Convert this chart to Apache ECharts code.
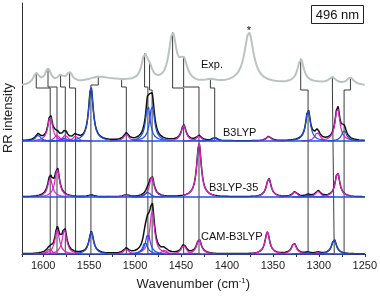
<!DOCTYPE html>
<html><head><meta charset="utf-8">
<script src="https://cdn.jsdelivr.net/npm/echarts@6/dist/echarts.min.js"></script>
<style>html,body{margin:0;padding:0;background:#fff}#c{width:380px;height:296px}</style>
</head><body><div id="c"></div>
<script>
// ---------------- DATA ----------------
// tick labels of the wavenumber axis (cm-1)
const xTickLabels = [1600, 1550, 1500, 1450, 1400, 1350, 1300, 1250];
// Panel names
const panelNames = ['Exp.', 'B3LYP', 'B3LYP-35', 'CAM-B3LYP'];
// Experimental RR band list: [wavenumber, relative height, half-width]
const expBands = [
  [1607.5, 11, 4], [1594.7, 15, 4], [1581.0, 7, 4], [1571.2, 10, 4],
  [1540.0, 5, 15], [1520.0, 5, 45], [1489.6, 24, 4], [1484.2, 10, 4], [1459.1, 48, 5],
  [1447.1, 20, 5], [1418.0, 3, 8], [1380.0, 3, 40], [1376.0, 50, 6], [1319.7, 24, 4],
  [1300.0, 3, 40], [1285.2, 6, 4], [1265.6, 7, 4]
];
// Calculated bands [wavenumber, height]; magenta and blue mode groups
const b3lypMagenta = [[1592.3, 25], [1584.9, 6], [1575.9, 6], [1564.7, 5], [1509.5, 7],
  [1447.1, 16], [1430.4, 5], [1354.5, 4.5], [1301.5, 9], [1279.7, 34]];
const b3lypBlue = [[1605.5, 6], [1548.0, 54], [1486.0, 36], [1481.4, 37], [1577.0, 3],
  [1413.3, 3], [1311.7, 31], [1272.5, 11]];
const b3lyp35Magenta = [[1592.4, 19], [1584.7, 28], [1509.6, 2], [1481.8, 20], [1430.4, 54],
  [1354.5, 19], [1326.0, 5], [1300.8, 6], [1279.7, 25]];
const b3lyp35Blue = [[1547.6, 2], [1486.0, 5], [1311.7, 2]];
const camMagenta = [[1593.0, 5], [1584.7, 24], [1576.8, 24], [1509.6, 5], [1481.4, 44],
  [1468.0, 4], [1447.0, 9], [1430.4, 15], [1356.0, 22], [1327.0, 11], [1301.0, 1.5]];
const camBlue = [[1547.6, 22], [1486.0, 21], [1489.0, 12], [1312.0, 1.5], [1283.4, 15]];
// Correlation lines: experimental band -> calculated band
const corrExp  = [1607.5, 1594.7, 1581.0, 1571.2, 1540.0, 1514.6, 1489.6, 1484.2, 1459.1, 1447.1, 1418.0, 1319.7, 1285.2, 1265.6];
const corrCalc = [1592.3, 1584.9, 1575.9, 1564.7, 1548.0, 1509.5, 1486.0, 1481.4, 1447.1, 1430.4, 1413.3, 1311.7, 1283.2, 1272.5];
const corrToBottom = [1,1,1,1,1,1,1,1,1,1,0,1,1,1];
const annotations = { solvent: '*', laser: '496 nm' };

// ---------------- LAYOUT / STYLE ----------------
const WN_MIN = 1250, WN_MAX = 1623;
const Y_MAX = 251;
const offsets = { exp: 167, p1: 113, p2: 57, p3: 0 };
const kinkLevels = [166, 167, 167, 166, 169, 167, 167, 164, 166, 167, 166, 164, 164, 164];
const CALC_W = 3.0;
const C_MAG = '#dc22cf', C_BLUE = '#1f4fe6', C_BLACK = '#111', C_EXP = '#b9c4c0', C_CONN = '#3a3a3a';
const FONT = '"Liberation Sans", Arial, sans-serif';

function lor(x, p, h, w) { const d = x - p; return h * w * w / (d * d + w * w); }
function sumBands(x, bands, w) {
  let s = 0;
  for (const b of bands) s += lor(x, b[0], b[1], b[2] !== undefined ? b[2] : w);
  return s;
}
function xs(a, b, step) { const r = []; for (let x = a; x <= b + 1e-9; x += step) r.push(+x.toFixed(3)); return r; }
const grid = xs(WN_MIN, WN_MAX, 0.5);

const series = [];
function lineSeries(data, color, width, z) {
  return { type: 'line', data, showSymbol: false, symbol: 'none', silent: true, z,
    lineStyle: { color, width }, animation: false, clip: true };
}
// connectors
const expVal = x => offsets.exp + sumBands(x, expBands);
corrExp.forEach((e, i) => {
  const c = corrCalc[i];
  const bottom = corrToBottom[i] ? offsets.p3 : offsets.p1;
  series.push(lineSeries([[e, expVal(e)], [e, kinkLevels[i]], [c, kinkLevels[i]], [c, bottom]], C_CONN, 1, 1));
});
// exp
series.push(lineSeries(grid.map(x => [x, expVal(x)]), C_EXP, 2, 3));
// calc panels
const panels = [
  [b3lypMagenta, b3lypBlue, offsets.p1],
  [b3lyp35Magenta, b3lyp35Blue, offsets.p2],
  [camMagenta, camBlue, offsets.p3]
];
panels.forEach(([mag, blue, off]) => {
  const all = mag.concat(blue);
  series.push(lineSeries(grid.map(x => [x, off + sumBands(x, all, CALC_W)]), C_BLACK, 1.5, 3));
  const comp = (bands, color) => bands.forEach(b => {
    const pts = xs(Math.max(WN_MIN, b[0] - 18), Math.min(WN_MAX, b[0] + 18), 0.25)
      .map(x => [x, off + lor(x, b[0], b[1], CALC_W)]);
    series.push(lineSeries(pts, color, 1.2, 4));
  });
  comp(mag, C_MAG);
  comp(blue, C_BLUE);
  series.push(lineSeries([[WN_MIN, off], [WN_MAX, off]], C_BLUE, 1.6, 5));
});

const chart = echarts.init(document.getElementById('c'), null, { renderer: 'canvas' });
const txt = (t, x, y, size, align) => ({ type: 'text', x, y, z: 100,
  style: { text: t, font: size + 'px ' + FONT, fill: '#111', align: align || 'left', verticalAlign: 'middle' } });
chart.setOption({
  animation: false,
  grid: { left: 22, right: 15, top: 3, bottom: 42 },
  xAxis: {
    type: 'value', min: WN_MIN, max: WN_MAX, interval: 25, inverse: true,
    axisLine: { onZero: false, lineStyle: { color: '#333', width: 1 } },
    axisTick: { length: 3, lineStyle: { color: '#333' } },
    axisLabel: { fontSize: 11, fontFamily: FONT, color: '#222', margin: 6,
      formatter: v => xTickLabels.includes(v) ? String(v) : '' },
    splitLine: { show: false },
    name: 'Wavenumber (cm{sup|-1})', nameLocation: 'middle', nameGap: 23,
    nameTextStyle: { fontSize: 13, fontFamily: FONT, color: '#222',
      rich: { sup: { fontSize: 8, fontFamily: FONT, color: '#222', verticalAlign: 'top', padding: [0, 0, 6, 0] } } }
  },
  yAxis: {
    type: 'value', min: 0, max: Y_MAX,
    axisLine: { show: true, lineStyle: { color: '#333', width: 1 } },
    axisTick: { show: false }, axisLabel: { show: false }, splitLine: { show: false }
  },
  graphic: [
    { type: 'text', x: 8, y: 118, rotation: Math.PI / 2, z: 100,
      style: { text: 'RR intensity', font: '13px ' + FONT, fill: '#222', align: 'center', verticalAlign: 'middle' } },
    { type: 'rect', z: 100, shape: { x: 311.5, y: 5.5, width: 52, height: 18 },
      style: { fill: '#fff', stroke: '#222', lineWidth: 1 } },
    txt(annotations.laser, 337.5, 15, 13, 'center'),
    txt(panelNames[0], 201, 65, 11),
    txt(panelNames[1], 223, 133, 11),
    txt(panelNames[2], 209, 188, 11),
    txt(panelNames[3], 201, 237, 11),
    txt(annotations.solvent, 249, 31, 11, 'center')
  ],
  series
});
</script></body></html>
